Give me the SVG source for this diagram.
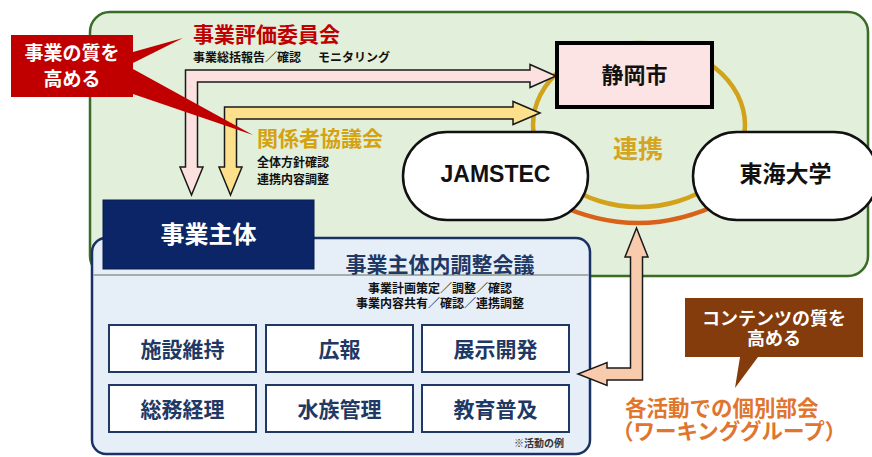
<svg xmlns="http://www.w3.org/2000/svg" width="872" height="457" viewBox="0 0 872 457">
<style>
text{font-family:"Noto Sans CJK JP","Noto Sans",sans-serif;font-weight:bold;}
.lat{font-family:"Liberation Sans",Arial,sans-serif;font-weight:bold;}
.ctr{text-anchor:middle;}
.arrow{stroke:#1a1a1a;stroke-width:1.5;stroke-linejoin:miter;}
.pill{fill:#ffffff;stroke:#111;stroke-width:2.5;}
.unit{fill:#ffffff;stroke:#1f3864;stroke-width:2;}
.unitT{fill:#1f3864;font-size:21px;text-anchor:middle;}
.sub{fill:#111;font-size:12px;}
</style>
<rect width="872" height="457" fill="#ffffff"/>

<g id="frame">
<rect x="90" y="12" width="778" height="264" rx="20" fill="#e2efda" stroke="#3a6b27" stroke-width="2.5"/>
</g>

<g id="connectors">
<ellipse id="renkei-ring" cx="639" cy="125" rx="106" ry="82" fill="none" stroke="#d1a21a" stroke-width="4.5"/>
<path id="renkei-arc" d="M555,203 Q640,244 725,201" fill="none" stroke="#d9621a" stroke-width="4.5"/>
<path id="arrow-pink" class="arrow" fill="#fde0e0" d="M556,76 L530,64.5 L530,70 L185.5,70 L185.5,167 L180,167 L191.5,195 L203,167 L197.5,167 L197.5,82 L530,82 L530,87.5 Z"/>
<path id="arrow-yellow" class="arrow" fill="#fde08c" d="M540,113 L513,101.5 L513,107 L224.5,107 L224.5,167 L219,167 L230.5,195 L242,167 L236.5,167 L236.5,119 L513,119 L513,124.5 Z"/>
</g>

<g id="shizuoka">
<rect x="557" y="43" width="155" height="64" fill="#fce4e4" stroke="#000" stroke-width="4"/>
<text x="634.5" y="83" class="ctr" font-size="22" fill="#111">静岡市</text>
</g>

<g id="jamstec">
<rect x="403" y="132" width="185" height="88" rx="44" class="pill"/>
<text x="495.5" y="182" class="lat ctr" font-size="23" fill="#111">JAMSTEC</text>
</g>

<g id="tokai">
<rect x="693" y="132" width="185" height="88" rx="44" class="pill"/>
<text x="785.5" y="182" class="ctr" font-size="23" fill="#111">東海大学</text>
</g>

<text id="renkei-label" x="638" y="158" class="ctr" font-size="25" fill="#d4a520">連携</text>

<g id="chosei-kaigi">
<rect x="92" y="238" width="498" height="216" rx="14" fill="#e6eef8" stroke="#1a3263" stroke-width="2.5"/>
<path d="M93,275 H589" stroke="#a3b0a8" stroke-width="2" fill="none"/>
<text x="440" y="271.5" class="ctr" font-size="21" fill="#1f3864">事業主体内調整会議</text>
<text x="440" y="292.5" class="ctr sub">事業計画策定／調整／確認</text>
<text x="440" y="307.5" class="ctr sub">事業内容共有／確認／連携調整</text>
<g id="units">
<rect x="109" y="325" width="147" height="47" class="unit"/>
<rect x="266" y="325" width="147" height="47" class="unit"/>
<rect x="422" y="325" width="147" height="47" class="unit"/>
<rect x="109" y="385" width="147" height="47" class="unit"/>
<rect x="266" y="385" width="147" height="47" class="unit"/>
<rect x="422" y="385" width="147" height="47" class="unit"/>
<text x="182.5" y="356.5" class="unitT">施設維持</text>
<text x="339.5" y="356.5" class="unitT">広報</text>
<text x="495.5" y="356.5" class="unitT">展示開発</text>
<text x="182.5" y="416.5" class="unitT">総務経理</text>
<text x="339.5" y="416.5" class="unitT">水族管理</text>
<text x="495.5" y="416.5" class="unitT">教育普及</text>
</g>
<text x="564" y="447" text-anchor="end" font-size="10" fill="#333">※活動の例</text>
</g>

<g id="jigyo-shutai">
<rect x="103" y="200" width="211" height="69" fill="#0b2566" stroke="#0a1d4a" stroke-width="1"/>
<text x="208.5" y="243" class="ctr" font-size="24" fill="#ffffff">事業主体</text>
</g>

<g id="connectors-2">
<path id="arrow-peach" class="arrow" fill="#f8cbad" d="M636.5,228 L648,257 L642.5,257 L642.5,380 L607,380 L607,385.5 L578,374 L607,362.5 L607,368 L630.5,368 L630.5,257 L625,257 Z"/>
</g>

<g id="hyoka-iinkai">
<text x="193" y="41.5" font-size="21" fill="#c00000">事業評価委員会</text>
<text y="61.5" class="sub"><tspan x="193">事業総括報告／確認</tspan><tspan x="318">モニタリング</tspan></text>
</g>

<g id="kankeisha-kyogikai">
<text x="257" y="145.5" font-size="21" fill="#d4a20f">関係者協議会</text>
<text x="257" y="167" class="sub">全体方針確認</text>
<text x="257" y="183.5" class="sub">連携内容調整</text>
</g>

<g id="callout-quality">
<path d="M11,35 H133 V52 L183,38 L133,63 V69 L253,135 L133,94 V97 H11 Z" fill="#c00000"/>
<text x="72" y="60" class="ctr" font-size="19" fill="#ffffff">事業の質を</text>
<text x="72" y="86" class="ctr" font-size="19" fill="#ffffff">高める</text>
</g>

<g id="callout-contents">
<path d="M685,298 H863 V357 H758 L735,388 L740,357 H685 Z" fill="#843c0c"/>
<text x="774" y="325" class="ctr" font-size="18" fill="#ffffff">コンテンツの質を</text>
<text x="774" y="345" class="ctr" font-size="18" fill="#ffffff">高める</text>
</g>

<g id="working-group">
<text x="625" y="415.5" font-size="21.5" fill="#e0752d">各活動での個別部会</text>
<text x="612" y="439" font-size="21.5" fill="#e0752d">（ワーキンググループ）</text>
</g>
</svg>
